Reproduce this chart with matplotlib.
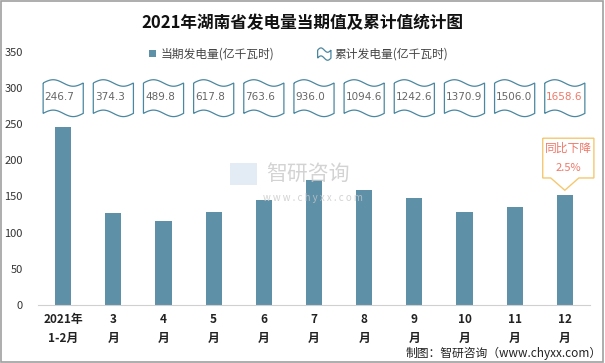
import numpy as np
import matplotlib
matplotlib.use("Agg")
import matplotlib.pyplot as plt
from matplotlib.path import Path
from matplotlib.patches import PathPatch, Rectangle

plt.rcParams['font.family'] = ['Noto Sans CJK SC', 'DejaVu Sans']

categories = ["2021年\n1-2月", "3\n月", "4\n月", "5\n月", "6\n月", "7\n月", "8\n月", "9\n月", "10\n月", "11\n月", "12\n月"]
monthly = [246.7, 127.6, 115.5, 128.0, 145.8, 172.4, 158.6, 148.0, 128.3, 135.1, 152.6]
cumulative = [246.7, 374.3, 489.8, 617.8, 763.6, 936.0, 1094.6, 1242.6, 1370.9, 1506.0, 1658.6]
yticks = [0, 50, 100, 150, 200, 250, 300, 350]

bar_color = "#5e90a8"
wave_color = "#4a87a0"
hl_color = "#f07868"

fig = plt.figure(figsize=(6.05, 3.63), dpi=100)
ax = fig.add_axes([0.063, 0.16, 0.912, 0.697])
x = np.arange(len(categories))
ax.bar(x, monthly, width=0.32, color=bar_color, zorder=2)
ax.set_xlim(-0.5, 10.5)
ax.set_ylim(0, 350)
ax.set_yticks(yticks)
ax.set_yticklabels([str(v) for v in yticks], fontsize=8, color="#333333")
ax.set_xticks(x)
ax.set_xticklabels(categories, fontsize=8.5, fontweight='bold', color="#222222", linespacing=1.6)
ax.tick_params(axis='both', length=0)
ax.tick_params(axis='y', pad=11)
ax.tick_params(axis='x', pad=6)
for s in ['top', 'right', 'left']:
    ax.spines[s].set_visible(False)
ax.spines['bottom'].set_color("#d0d0d0")

# wave flags with cumulative values
def wave_path(cx, w, y0, y1, amp):
    t = np.linspace(0, 1, 40)
    xs = cx - w / 2 + w * t
    top = y1 + amp * np.sin(2 * np.pi * t)
    bot = y0 + amp * np.sin(2 * np.pi * t)
    verts = list(zip(xs, top)) + list(zip(xs[::-1], bot[::-1])) + [(xs[0], top[0])]
    codes = [Path.MOVETO] + [Path.LINETO] * (len(verts) - 1)
    return Path(verts, codes)

for i, v in enumerate(cumulative):
    p = PathPatch(wave_path(i, 0.8, 265, 307, 4.5), facecolor="white", edgecolor=wave_color, lw=0.9, zorder=3)
    ax.add_patch(p)
    ax.text(i - 0.37, 287, f"{v:.1f}", fontsize=7.5, color=(hl_color if i == len(cumulative) - 1 else "#666666"),
            ha='left', va='center', zorder=4, family=['DejaVu Sans'])

# callout
last = len(monthly) - 1
bx0, bx1 = last - 0.44, last + 0.58
by0, by1 = monthly[last] + 23, monthly[last] + 78
tip = monthly[last] + 6
callout = [(bx0, by1), (bx1, by1), (bx1, by0), (last + 0.28, by0), (last, tip), (last - 0.28, by0), (bx0, by0), (bx0, by1)]
ax.add_patch(PathPatch(Path(callout), facecolor="white", edgecolor="#f5c870", lw=1.0, zorder=4, clip_on=False))
ax.text(last + 0.07, by1 - 14, "同比下降", fontsize=8.5, color=hl_color, ha='center', va='center', zorder=5)
ax.text(last + 0.07, by0 + 14, "2.5%", fontsize=8, color=hl_color, ha='center', va='center', zorder=5)

# title
fig.text(0.5, 0.935, "2021年湖南省发电量当期值及累计值统计图", fontsize=12, fontweight='bold', ha='center', va='center', color="#111111")

# legend
fig.patches.append(Rectangle((0.247, 0.843), 0.011, 0.018, transform=fig.transFigure, facecolor=bar_color, edgecolor='none'))
fig.text(0.265, 0.852, "当期发电量(亿千瓦时)", fontsize=8.5, color="#444444", ha='left', va='center')
t = np.linspace(0, 1, 20)
lx = 0.525 + 0.022 * t
ltop = 0.862 + 0.006 * np.sin(2 * np.pi * t)
lbot = 0.840 + 0.006 * np.sin(2 * np.pi * t)
verts = list(zip(lx, ltop)) + list(zip(lx[::-1], lbot[::-1])) + [(lx[0], ltop[0])]
fig.patches.append(PathPatch(Path(verts), transform=fig.transFigure, facecolor='white', edgecolor=wave_color, lw=0.9))
fig.text(0.553, 0.852, "累计发电量(亿千瓦时)", fontsize=8.5, color="#444444", ha='left', va='center')

# watermark
fig.text(0.44, 0.52, "智研咨询", fontsize=15, color="#c8c8c8", alpha=0.8, ha='left', va='center')
fig.text(0.435, 0.455, "w w w . c h y x x . c o m", fontsize=7, color="#c8c8c8", alpha=0.8, ha='left', va='center')
fig.patches.append(Rectangle((0.38, 0.49), 0.045, 0.06, transform=fig.transFigure, facecolor="#d8e4f0", edgecolor='none', alpha=0.7))

# source
fig.text(0.995, 0.025, "制图：智研咨询（www.chyxx.com）", fontsize=8.5, color="#222222", ha='right', va='center')

# border
fig.patches.append(Rectangle((0.001, 0.002), 0.996, 0.995, transform=fig.transFigure, facecolor='none', edgecolor="#a0a0a0", lw=1.2))

fig.savefig("out.png", dpi=100)
